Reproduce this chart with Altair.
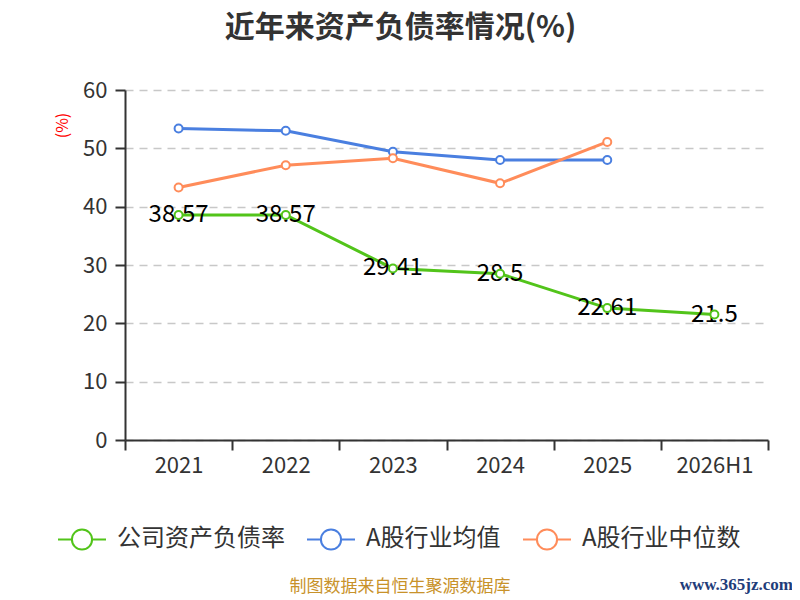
import altair as alt
import pandas as pd

years = ["2021", "2022", "2023", "2024", "2025", "2026H1"]
company = [38.57, 38.57, 29.41, 28.5, 22.61, 21.5]
industry_avg = [53.4, 53.0, 49.4, 48.0, 48.0, None]
industry_median = [43.3, 47.1, 48.3, 44.0, 51.1, None]

series_names = ["公司资产负债率", "A股行业均值", "A股行业中位数"]
series_colors = ["#52c41a", "#4a7fe0", "#ff8c5a"]

rows = []
for name, values in zip(series_names, [company, industry_avg, industry_median]):
    for year, v in zip(years, values):
        if v is not None:
            rows.append({"year": year, "series": name, "value": v})
df = pd.DataFrame(rows)

FONT = "Noto Sans CJK SC"
legend_symbol = (
    "M-1,0 L-0.42,0 M0.42,0 L1,0 "
    "M-0.42,0 A0.42,0.42 0 1,1 0.42,0 A0.42,0.42 0 1,1 -0.42,0"
)

x_enc = alt.X(
    "year:N",
    sort=years,
    bandPosition=0.5,
    scale=alt.Scale(type="band", domain=years, paddingInner=0, paddingOuter=0),
    axis=alt.Axis(
        title=None, labelAngle=0, tickBand="extent", labelFontSize=22,
        labelColor="#333", labelFont=FONT, labelPadding=5,
        domainColor="#333", domainWidth=2, tickColor="#333", tickWidth=2,
        tickSize=10, grid=False,
    ),
)
y_enc = alt.Y(
    "value:Q",
    scale=alt.Scale(domain=[0, 60], nice=False),
    axis=alt.Axis(
        values=[0, 10, 20, 30, 40, 50, 60], title="(%)", titleColor="red",
        titleFontSize=16, titleFont=FONT, titleFontWeight="normal",
        titleX=-63, titleY=35, titleAngle=-90, titleAlign="center",
        titleBaseline="middle",
        labelFontSize=22, labelColor="#333", labelFont=FONT, labelPadding=8,
        domainColor="#333", domainWidth=2, tickColor="#333", tickWidth=2,
        tickSize=10, grid=True, gridColor="#c8c8c8", gridDash=[8, 6],
        gridWidth=1.5,
    ),
)
color_scale = alt.Scale(domain=series_names, range=series_colors)

base = alt.Chart(df)

lines = base.mark_line(strokeWidth=3).encode(
    x=x_enc, y=y_enc,
    color=alt.Color(
        "series:N", scale=color_scale, sort=series_names,
        legend=alt.Legend(
            title=None, orient="none", direction="horizontal",
            legendX=-68, legendY=424, padding=0,
            symbolType=legend_symbol, symbolSize=2304, symbolStrokeWidth=2,
            symbolFillColor="white", labelFontSize=24, labelFont=FONT,
            labelColor="#333", labelOffset=10, columnPadding=18,
            labelLimit=0,
        ),
    ),
)

labels = base.transform_filter(
    alt.datum.series == series_names[0]
).mark_text(fontSize=24, font=FONT, color="#000", baseline="middle",
            align="center").encode(
    x=x_enc, y=y_enc, text=alt.Text("value:Q"),
)

points = base.mark_point(filled=False, fill="white", size=64,
                         strokeWidth=2, opacity=1).encode(
    x=x_enc, y=y_enc,
    color=alt.Color("series:N", scale=color_scale, sort=series_names),
)

footer = alt.Chart(pd.DataFrame({"t": ["制图数据来自恒生聚源数据库"]})).mark_text(
    fontSize=17, font=FONT, color="#c8922a", align="center", baseline="middle"
).encode(text="t:N", x=alt.value(275), y=alt.value(497))

site = alt.Chart(pd.DataFrame({"t": ["www.365jz.com"]})).mark_text(
    fontSize=17, font="Liberation Serif", fontWeight="bold", color="#1f3d7a",
    align="right", baseline="middle"
).encode(text="t:N", x=alt.value(668), y=alt.value(495))

chart = alt.layer(lines, labels, points, footer, site).properties(
    width=643,
    height=350,
    autosize=alt.AutoSizeParams(type="none"),
    padding={"left": 117, "top": 82, "right": 24, "bottom": 168},
    title=alt.TitleParams(
        "近年来资产负债率情况(%)", fontSize=30, font=FONT, fontWeight="bold",
        color="#333", anchor="middle", dx=-46, offset=36,
    ),
).configure_view(stroke=None)

chart.save("out.html", embed_options={"renderer": "svg", "actions": False})
